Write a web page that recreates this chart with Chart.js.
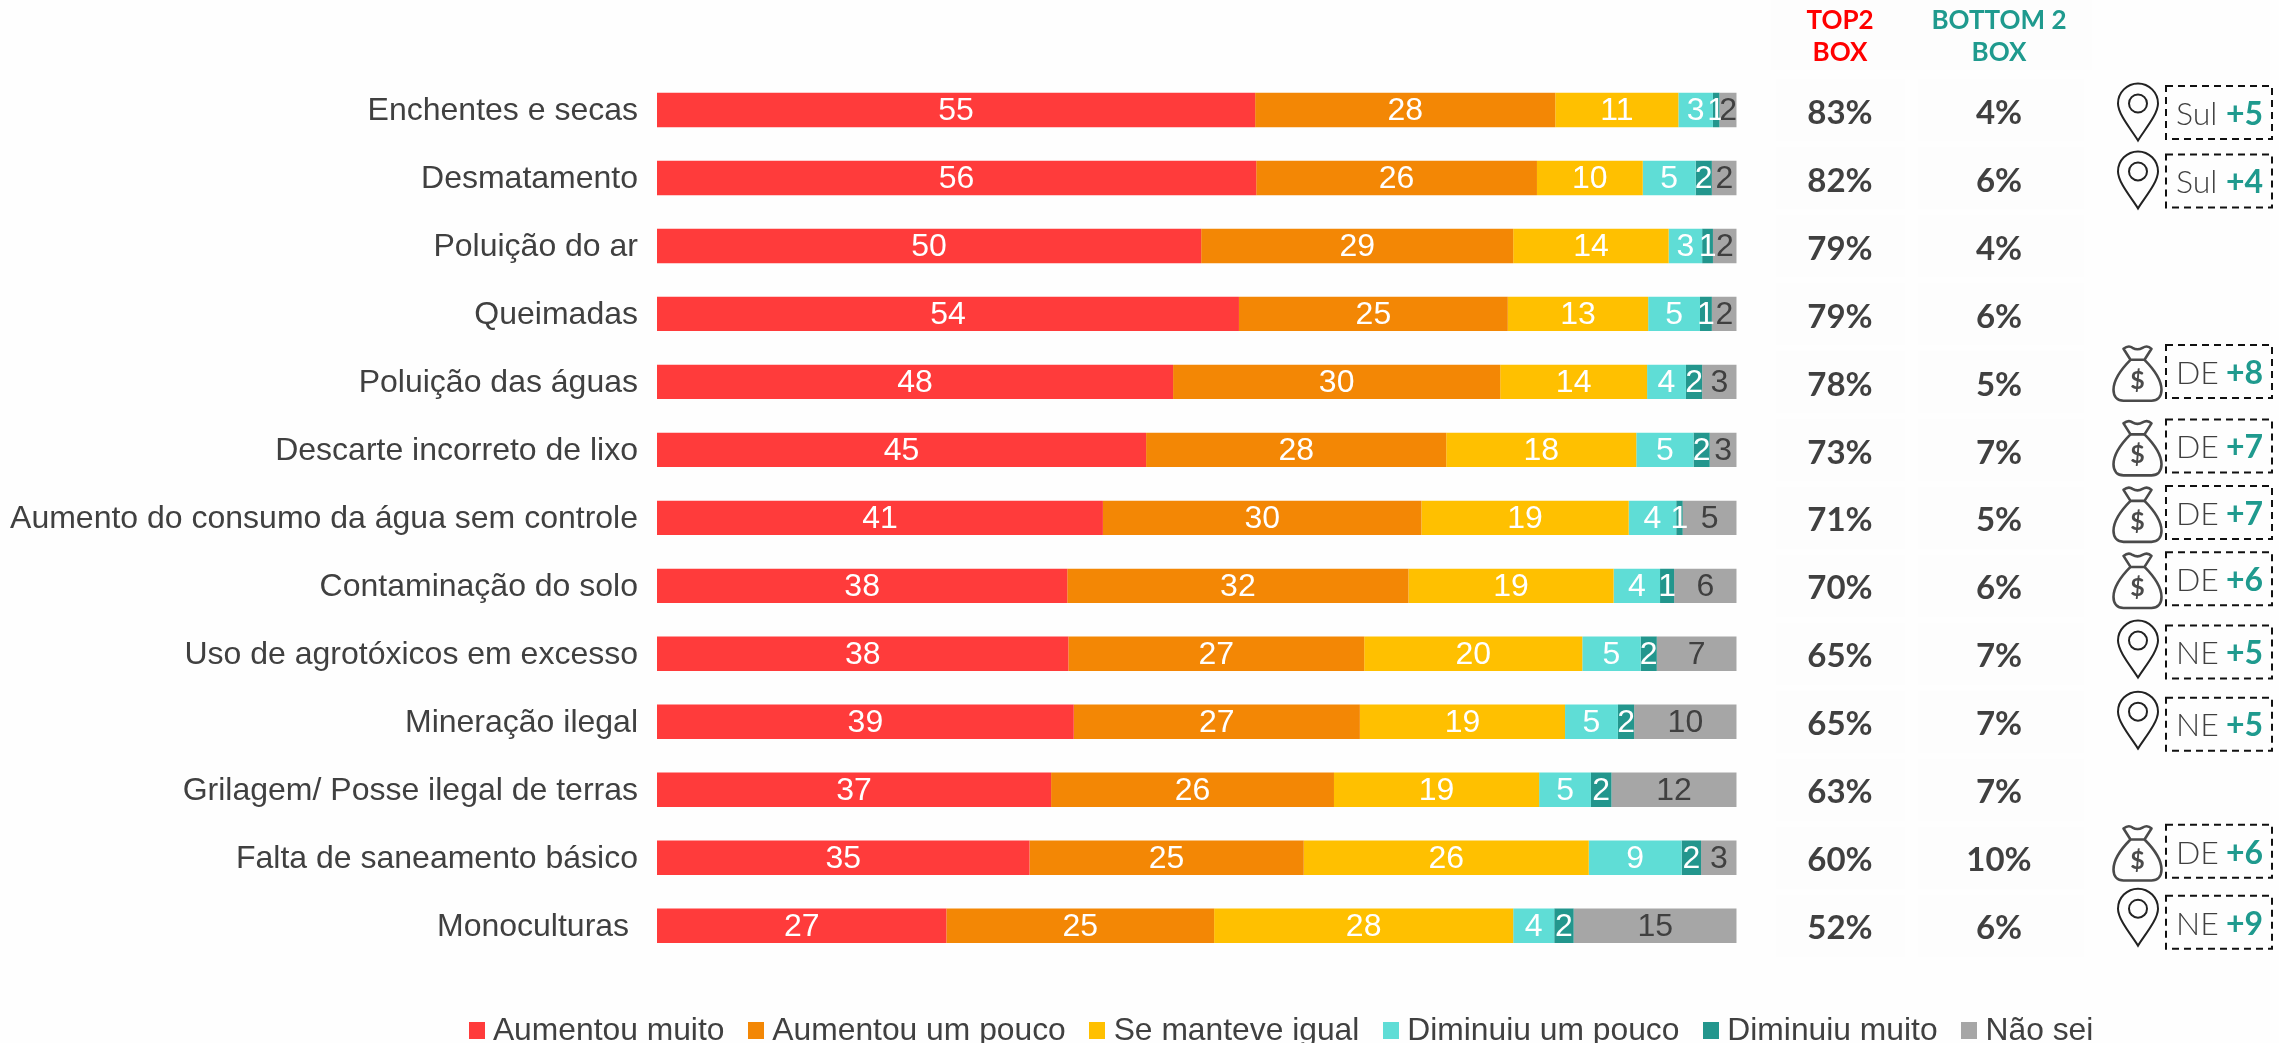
<!DOCTYPE html>
<html lang="pt">
<head>
<meta charset="utf-8">
<title>Problemas ambientais</title>
<script src="https://cdn.jsdelivr.net/npm/chart.js@4/dist/chart.umd.min.js"></script>
<style>
  html, body { margin: 0; padding: 0; background: #fefefe; overflow: hidden; }
  #wrap { position: relative; width: 2279px; height: 1043px; }
</style>
</head>
<body>
<div id="wrap"><canvas id="myChart"></canvas></div>
<script>
// Categories and series
const categories = [
    'Enchentes e secas', 'Desmatamento', 'Poluição do ar', 'Queimadas', 'Poluição das águas',
    'Descarte incorreto de lixo', 'Aumento do consumo da água sem controle', 'Contaminação do solo',
    'Uso de agrotóxicos em excesso', 'Mineração ilegal', 'Grilagem/ Posse ilegal de terras',
    'Falta de saneamento básico', 'Monoculturas '
];
const aumentouMuito  = [55.4, 55.5, 50.4, 53.9, 47.8, 45.3, 41.3, 38.0, 38.1, 38.6, 36.5, 34.5, 26.8];
const aumentouPouco  = [27.8, 26.0, 28.9, 24.9, 30.3, 27.8, 29.5, 31.6, 27.4, 26.5, 26.2, 25.4, 24.8];
const manteveIgual   = [11.4,  9.8, 14.4, 13.0, 13.6, 17.6, 19.2, 19.0, 20.2, 19.0, 19.0, 26.4, 27.7];
const diminuiuPouco  = [ 3.2,  4.9,  3.1,  4.8,  3.6,  5.3,  4.4,  4.3,  5.4,  4.9,  4.8,  8.6,  3.8];
const diminuiuMuito  = [ 0.6,  1.5,  1.0,  1.1,  1.5,  1.5,  0.6,  1.3,  1.5,  1.5,  1.9,  1.8,  1.8];
const naoSei         = [ 1.6,  2.3,  2.2,  2.3,  3.2,  2.5,  5.0,  5.8,  7.4,  9.5, 11.6,  3.3, 15.1];

const seriesNames = ['Aumentou muito', 'Aumentou um pouco', 'Se manteve igual', 'Diminuiu um pouco', 'Diminuiu muito', 'Não sei'];
const seriesColors = ['#ff3b3b', '#f38705', '#ffc000', '#5fddd6', '#23968d', '#a6a6a6'];
const labelColors = ['#ffffff', '#ffffff', '#ffffff', '#ffffff', '#ffffff', '#404040'];

// Side columns
const top2Box = ['83%', '82%', '79%', '79%', '78%', '73%', '71%', '70%', '65%', '65%', '63%', '60%', '52%'];
const bottom2Box = ['4%', '6%', '4%', '6%', '5%', '7%', '5%', '6%', '7%', '7%', '7%', '10%', '6%'];
const badgeRegion = ['Sul', 'Sul', null, null, 'DE', 'DE', 'DE', 'DE', 'NE', 'NE', null, 'DE', 'NE'];
const badgeDelta = ['+5', '+4', null, null, '+8', '+7', '+7', '+6', '+5', '+5', null, '+6', '+9'];

// Badges in the original were placed by hand, so they drift from the rows (px)
const badgeShift = [2.5, 3, 0, 0, -10.4, -3.8, -5.3, -7.2, -1.7, 2.4, 0, -6.5, -3.5];
const pinShift = [-0.5, -1, 0, 0, 0, 0, 0, 0, -3, -4, 0, 0, -5];

const TEXT = '#404040';
const TEAL = '#1f9a8e';
const SANS = '"Liberation Sans", Arial, sans-serif';
const GEO = 'Lato, "Open Sans", sans-serif';

function drawPin(ctx, cx, cy) {
    const top = cy - 28.5, r = 20, tip = cy + 28.5;
    ctx.beginPath();
    ctx.moveTo(cx, tip);
    ctx.bezierCurveTo(cx - 6, tip - 10, cx - r, tip - 26, cx - r, top + r);
    ctx.arc(cx, top + r, r, Math.PI, 0);
    ctx.bezierCurveTo(cx + r, tip - 26, cx + 6, tip - 10, cx, tip);
    ctx.closePath();
    ctx.moveTo(cx + 9, top + r);
    ctx.arc(cx, top + r, 9, 0, Math.PI * 2);
    ctx.strokeStyle = '#222';
    ctx.lineWidth = 2;
    ctx.stroke();
}

function drawBag(ctx, cx, cy) {
    ctx.save();
    ctx.translate(cx, cy);
    ctx.strokeStyle = '#4a4a4a';
    ctx.lineWidth = 2.6;
    ctx.lineJoin = 'round';
    // tie on top
    ctx.beginPath();
    ctx.moveTo(-7, -13);
    ctx.lineTo(-14, -24);
    ctx.quadraticCurveTo(-9, -28, -5, -25);
    ctx.quadraticCurveTo(0, -22, 5, -25);
    ctx.quadraticCurveTo(10, -28, 14, -24);
    ctx.lineTo(7, -13);
    ctx.closePath();
    ctx.stroke();
    // body
    ctx.beginPath();
    ctx.moveTo(-7, -13);
    ctx.bezierCurveTo(-14, -6, -24, 6, -24, 17);
    ctx.bezierCurveTo(-24, 24, -20, 28, -14, 28);
    ctx.lineTo(14, 28);
    ctx.bezierCurveTo(20, 28, 24, 24, 24, 17);
    ctx.bezierCurveTo(24, 6, 14, -6, 7, -13);
    ctx.stroke();
    ctx.fillStyle = '#4a4a4a';
    ctx.font = 'bold 25px ' + GEO;
    ctx.textAlign = 'center';
    ctx.textBaseline = 'middle';
    ctx.fillText('$', 0, 8);
    ctx.restore();
}

// Legend marker as a small canvas, so the text can sit close to it
function legendMarker(color) {
    const c = document.createElement('canvas');
    c.width = 16;
    c.height = 17;
    const g = c.getContext('2d');
    g.fillStyle = color;
    g.fillRect(0, 0, 16, 17);
    return c;
}

// Faint cell backgrounds behind the side columns
const sidePanelBack = {
    id: 'sidePanelBack',
    beforeDraw(chart) {
        const { ctx, scales: { y } } = chart;
        ctx.save();
        ctx.fillStyle = '#fdfdfd';
        ctx.fillRect(1771, 0, 321, 70);
        categories.forEach((_, i) => {
            const py = y.getPixelForValue(i);
            ctx.fillRect(1776, py - 31, 129, 62);
            ctx.fillRect(1918, py - 31, 166, 62);
        });
        ctx.restore();
    }
};

// Value labels in the middle of each segment
const segmentLabels = {
    id: 'segmentLabels',
    afterDatasetsDraw(chart) {
        const { ctx } = chart;
        ctx.save();
        ctx.font = '32px ' + SANS;
        ctx.textAlign = 'center';
        ctx.textBaseline = 'middle';
        chart.data.datasets.forEach((ds, d) => {
            ctx.fillStyle = labelColors[d];
            chart.getDatasetMeta(d).data.forEach((bar, i) => {
                const p = bar.getCenterPoint();
                ctx.fillText(String(Math.round(ds.data[i])), p.x, p.y + 1);
            });
        });
        ctx.restore();
    }
};

// TOP2 / BOTTOM 2 columns and the dashed badges on the right
const sideColumns = {
    id: 'sideColumns',
    afterDraw(chart) {
        const { ctx, scales: { y } } = chart;
        ctx.save();
        ctx.textAlign = 'center';
        ctx.textBaseline = 'middle';

        ctx.font = 'bold 26px ' + GEO;
        ctx.fillStyle = '#ff0000';
        ctx.fillText('TOP2', 1840, 21);
        ctx.fillText('BOX', 1840, 53);
        ctx.fillStyle = TEAL;
        ctx.fillText('BOTTOM 2', 1999, 21);
        ctx.fillText('BOX', 1999, 53);

        categories.forEach((_, i) => {
            const py = y.getPixelForValue(i);
            ctx.font = 'bold 33px ' + GEO;
            ctx.fillStyle = TEXT;
            ctx.textAlign = 'center';
            ctx.fillText(top2Box[i], 1840, py + 3);
            ctx.fillText(bottom2Box[i], 1999, py + 3);

            if (!badgeRegion[i]) return;
            const by = py + badgeShift[i];
            ctx.strokeStyle = '#111';
            ctx.lineWidth = 2;
            ctx.setLineDash([7, 5]);
            ctx.strokeRect(2166, by - 26.5, 106, 53);
            ctx.setLineDash([]);

            if (badgeRegion[i] === 'DE') drawBag(ctx, 2137.5, by + 1.3);
            else drawPin(ctx, 2138, by + pinShift[i]);

            ctx.textAlign = 'left';
            ctx.font = '300 32px ' + GEO;
            ctx.fillStyle = TEXT;
            ctx.fillText(badgeRegion[i], 2176, by + 2);
            ctx.font = 'bold 32px ' + GEO;
            ctx.fillStyle = TEAL;
            ctx.textAlign = 'right';
            ctx.fillText(badgeDelta[i], 2263, by + 2);
        });
        ctx.restore();
    }
};

// The legend sits off-centre under the bars, so move it after layout;
// the category names also sit a touch below the bar centres
const placeLegend = {
    id: 'placeLegend',
    afterLayout(chart) {
        const lg = chart.legend;
        lg.left = 445;
        lg.right = 2279;
        lg.top = 984;
        lg.bottom = 1043;
        chart.scales.y.getLabelItems().forEach(item => {
            item.options.translation[1] += 1.5;
        });
    }
};

const seriesValues = [aumentouMuito, aumentouPouco, manteveIgual, diminuiuPouco, diminuiuMuito, naoSei];

new Chart(document.getElementById('myChart'), {
    type: 'bar',
    data: {
        labels: categories,
        datasets: seriesNames.map((name, s) => ({
            label: name,
            data: seriesValues[s],
            backgroundColor: seriesColors[s],
            borderWidth: 0,
            categoryPercentage: 1,
            barPercentage: 0.506
        }))
    },
    options: {
        indexAxis: 'y',
        responsive: true,
        maintainAspectRatio: false,
        animation: false,
        layout: { padding: { left: 0, right: 542.3, top: 76, bottom: 10.5 } },
        scales: {
            x: { stacked: true, min: 0, max: 100, display: false },
            y: {
                stacked: true,
                afterFit(scale) { scale.width = 657; },
                border: { display: false },
                grid: { display: false, drawTicks: false },
                ticks: {
                    autoSkip: false,
                    padding: 19,
                    color: TEXT,
                    font: { family: SANS, size: 32 }
                }
            }
        },
        plugins: {
            tooltip: { enabled: false },
            legend: {
                position: 'bottom',
                align: 'start',
                labels: {
                    usePointStyle: true,
                    pointStyleWidth: 1,
                    padding: 31,
                    color: TEXT,
                    font: { family: SANS, size: 31.8 },
                    generateLabels: () => seriesNames.map((name, s) => ({
                        text: name,
                        fillStyle: seriesColors[s],
                        strokeStyle: seriesColors[s],
                        fontColor: TEXT,
                        lineWidth: 0,
                        pointStyle: legendMarker(seriesColors[s]),
                        datasetIndex: s,
                        hidden: false
                    }))
                }
            }
        }
    },
    plugins: [sidePanelBack, segmentLabels, sideColumns, placeLegend]
});
</script>
</body>
</html>
